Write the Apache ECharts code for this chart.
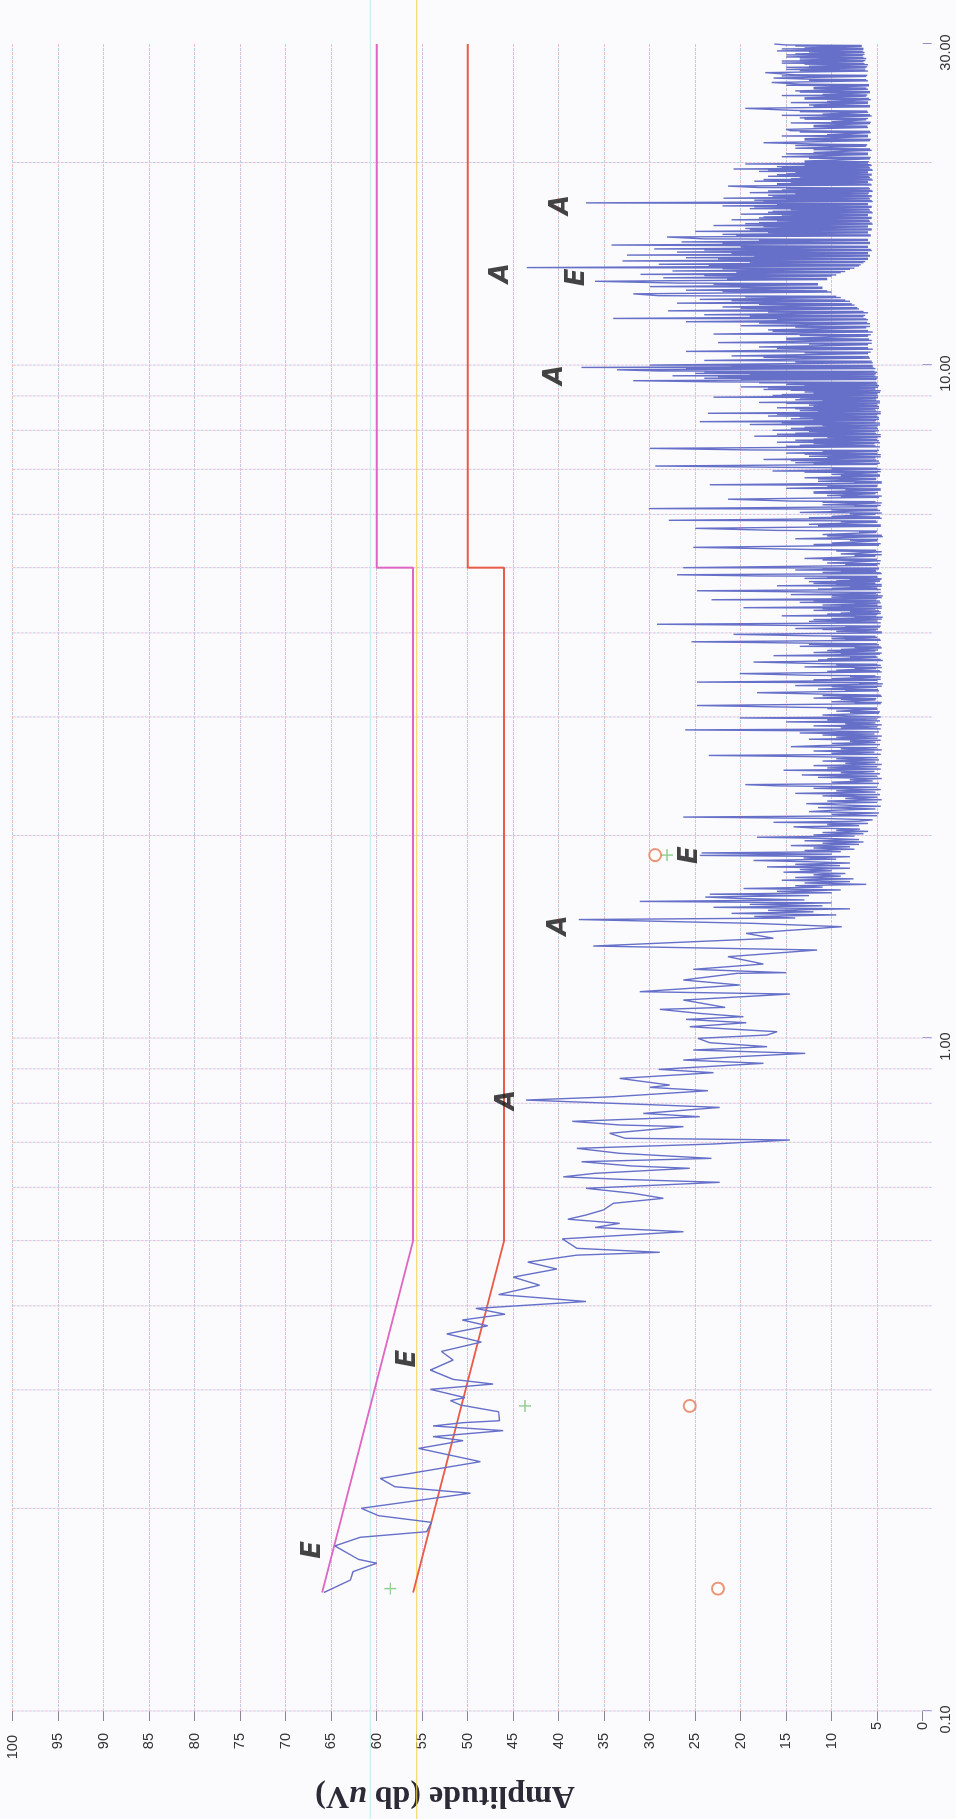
<!DOCTYPE html>
<html>
<head>
<meta charset="utf-8">
<script src="https://cdn.jsdelivr.net/npm/echarts@6/dist/echarts.min.js"></script>
<style>
  html, body { margin: 0; padding: 0; background: #fbfbfd; overflow: hidden; }
  body { width: 956px; height: 1819px; position: relative; }
  /* the plot is laid out landscape and turned a quarter turn counter-clockwise */
  #chart {
    position: absolute; left: 0; top: 0;
    width: 1819px; height: 956px;
    transform-origin: 0 0;
    transform: translate(0, 1819px) rotate(-90deg);
  }
</style>
</head>
<body>
<div id="chart"></div>
<script>
// Conducted emission scan: [frequency MHz, level dB(uV)]
const scan150k = [[0.150,65.8],[0.1565,62.9],[0.1611,62.6],[0.1658,60.0],[0.168,62.0],[0.1759,64.6],[0.1812,61.8],[0.1847,54.5],[0.1907,54.0],[0.1951,59.8],[0.2001,61.7],[0.2107,49.7],[0.2154,58.0],[0.2216,59.6],[0.2347,48.6],[0.2456,55.4],[0.2522,50.5],[0.2557,53.8],[0.261,46.1],[0.2652,53.8],[0.2682,50.5],[0.27,46.5],[0.2784,46.6],[0.2849,50.8],[0.2892,51.9],[0.2922,50.3],[0.3006,54.1],[0.3061,47.2],[0.311,51.6],[0.3211,54.1],[0.3323,51.6],[0.3422,52.9],[0.3534,48.5],[0.3634,52.3],[0.3736,47.8],[0.3811,50.6],[0.3887,45.9],[0.3965,49.1],[0.406,37.0],[0.4158,46.6],[0.4293,42.1],[0.4413,45.0],[0.4537,40.2],[0.4646,43.4],[0.4758,38.0],[0.4804,28.9],[0.487,38.0],[0.503,39.6]];

const scan500k = [[0.5155,26.3],[0.523,36.0],[0.5305,33.3],[0.538,39.0],[0.5458,37.0],[0.5553,35.1],[0.5681,34.0],[0.5779,28.5],[0.5878,31.8],[0.598,37.0],[0.6104,22.3],[0.6166,33.1],[0.622,39.5],[0.6295,36.0],[0.6404,25.6],[0.6455,32.0],[0.655,37.5],[0.6625,23.2],[0.6741,33.3],[0.6857,38.0],[0.6959,23.0],[0.7055,14.6],[0.7096,32.7],[0.7218,34.4],[0.7385,26.3],[0.7427,33.3],[0.752,38.5],[0.7641,24.5],[0.7727,30.7],[0.7887,22.3],[0.7951,28.9],[0.8088,43.6],[0.8181,34.0],[0.8351,23.6],[0.8447,30.0],[0.8515,27.8],[0.871,33.3],[0.8882,23.0],[0.8984,29.0],[0.9171,17.5],[0.9275,26.3],[0.9382,20.4],[0.9489,12.9],[0.9599,25.2],[0.9709,17.1],[0.9842,23.4],[0.9989,24.7],[1.0104,17.1],[1.0219,16.0],[1.0395,25.6],[1.0538,19.4],[1.0659,26.0],[1.0757,19.7],[1.0879,24.5],[1.1031,28.9],[1.1107,21.7],[1.1389,26.3],[1.1625,14.6],[1.1719,31.1],[1.199,20.1],[1.2197,26.3],[1.2478,20.4],[1.2507,15.0],[1.2651,25.2],[1.2883,17.5],[1.321,21.4],[1.3515,11.6],[1.370,36.2],[1.407,16.4],[1.4307,19.4],[1.4637,8.9],[1.4805,18.6]];

const scan1M5 = [[1.500,37.8],[1.508,14.0],[1.516,18.5],[1.524,9.5],[1.532,21.0],[1.540,12.0],[1.548,17.0],[1.556,8.0],[1.564,23.0],[1.572,11.0],[1.580,19.0],[1.588,10.0],[1.596,31.1],[1.604,13.0],[1.612,20.0],[1.620,23.9],[1.628,12.5],[1.636,23.4],[1.644,10.0],[1.652,16.0],[1.660,9.0],[1.668,19.7],[1.676,11.0],[1.684,14.0],[1.692,6.2],[1.700,13.0],[1.708,8.0],[1.716,15.5],[1.724,7.6],[1.732,14.0],[1.740,9.0],[1.748,12.0],[1.756,8.5],[1.764,15.3],[1.772,10.0],[1.780,13.5],[1.788,8.0],[1.796,17.1],[1.804,9.1],[1.812,14.0],[1.820,8.0],[1.828,12.5],[1.836,18.6],[1.844,9.5],[1.852,13.1],[1.860,8.0],[1.868,24.5],[1.876,10.0],[1.884,24.3],[1.892,9.0],[1.900,13.0],[1.908,7.5],[1.916,12.0],[1.924,8.0],[1.932,14.5],[1.940,7.0],[1.948,11.0],[1.956,6.5],[1.964,13.0],[1.972,7.0],[1.980,10.5],[1.988,18.2],[1.996,7.5],[2.004,12.0],[2.012,6.5],[2.020,11.0],[2.028,6.0],[2.036,9.5],[2.044,6.9],[2.052,12.0],[2.060,14.2],[2.068,7.0],[2.076,10.5],[2.084,6.0],[2.092,16.4],[2.100,7.0]];

const scan2M = [[2.11,5.5],[2.12,11.0],[2.13,26.3],[2.14,5.0],[2.15,10.0],[2.16,4.8],[2.17,12.5],[2.18,9.8],[2.19,5.2],[2.20,11.5],[2.21,4.6],[2.22,9.0],[2.23,12.8],[2.24,5.0],[2.25,10.5],[2.26,4.5],[2.27,8.5],[2.28,5.0],[2.29,11.0],[2.30,4.7],[2.31,14.0],[2.32,5.2],[2.33,9.5],[2.34,4.6],[2.35,12.0],[2.36,5.0],[2.37,16.0],[2.38,19.5],[2.39,4.8],[2.40,10.0],[2.41,5.5],[2.42,8.0],[2.43,4.5],[2.44,11.5],[2.45,5.0],[2.46,13.3],[2.47,4.7],[2.48,9.0],[2.49,5.3],[2.50,15.3],[2.51,4.6],[2.52,10.5],[2.53,5.0],[2.54,12.0],[2.55,4.5],[2.56,8.5],[2.57,5.2],[2.58,11.0],[2.59,4.8],[2.60,9.5],[2.61,5.0],[2.62,13.0],[2.63,23.5],[2.64,4.6],[2.65,10.0],[2.66,5.3],[2.67,12.0],[2.68,4.5],[2.69,9.0],[2.70,5.0],[2.71,14.5],[2.72,11.3],[2.73,4.7],[2.74,10.0],[2.75,5.2],[2.76,8.0],[2.77,4.6],[2.78,12.5],[2.79,5.0],[2.80,9.5],[2.81,4.5],[2.82,11.0],[2.83,5.3],[2.84,13.5],[2.85,4.8],[2.86,10.0],[2.87,26.1],[2.88,4.6],[2.89,9.0],[2.90,5.0],[2.91,12.0],[2.92,4.5],[2.93,8.5],[2.94,5.2],[2.95,15.0],[2.96,4.7],[2.97,10.5],[2.98,5.0],[2.99,20.1],[3.00,4.6]];

const scan3M = [[3.02,11.0],[3.04,4.8],[3.06,9.5],[3.08,5.0],[3.10,13.0],[3.12,24.8],[3.14,4.6],[3.16,10.0],[3.18,5.2],[3.20,12.0],[3.22,4.5],[3.24,9.0],[3.26,18.2],[3.28,4.8],[3.30,11.5],[3.32,5.0],[3.34,14.0],[3.36,4.4],[3.38,24.8],[3.40,5.0],[3.42,10.0],[3.44,4.6],[3.46,12.5],[3.48,20.1],[3.50,4.5],[3.52,9.5],[3.54,5.1],[3.56,13.0],[3.58,4.6],[3.60,11.0],[3.62,18.6],[3.64,4.4],[3.66,10.5],[3.68,5.0],[3.70,16.4],[3.72,4.7],[3.74,12.0],[3.76,5.2],[3.78,9.0],[3.80,4.5],[3.82,13.5],[3.84,4.8],[3.86,11.0],[3.88,25.4],[3.90,4.6],[3.92,10.0],[3.94,5.0],[3.96,12.0],[3.98,20.8],[4.00,4.5],[4.02,9.5],[4.04,5.1],[4.06,14.0],[4.08,4.7],[4.10,11.0],[4.12,29.2],[4.14,4.6],[4.16,12.5],[4.18,5.0],[4.20,10.0],[4.22,4.4],[4.24,15.5],[4.26,5.0],[4.28,9.0],[4.30,4.6],[4.32,12.0],[4.34,5.2],[4.36,19.7],[4.38,4.5],[4.40,11.0],[4.42,5.0],[4.44,13.5],[4.46,4.7],[4.48,23.2],[4.50,5.0],[4.52,10.0],[4.54,4.4],[4.56,14.5],[4.58,5.1],[4.60,11.5],[4.62,24.8],[4.64,4.6],[4.66,10.0],[4.68,5.0],[4.70,16.0],[4.72,4.5],[4.74,12.0],[4.76,5.2],[4.78,9.5],[4.80,4.6],[4.82,13.0],[4.84,5.0],[4.86,18.0],[4.88,27.0],[4.90,4.5],[4.92,11.0],[4.94,5.1],[4.96,14.0],[4.98,4.8],[5.00,26.3]];

const scan3Mb = [[3.047,8.0],[3.053,4.7],[3.087,10.5],[3.093,5.0],[3.147,7.5],[3.153,4.5],[3.187,9.0],[3.193,5.1],[3.227,11.0],[3.233,4.6],[3.287,8.5],[3.293,4.9],[3.327,10.0],[3.333,4.5],[3.367,7.0],[3.373,5.0],[3.407,12.0],[3.413,4.6],[3.447,8.0],[3.453,5.2],[3.507,10.5],[3.513,4.7],[3.547,7.5],[3.553,4.5],[3.587,9.5],[3.593,5.0],[3.647,11.5],[3.653,4.6],[3.687,8.0],[3.693,5.1],[3.727,9.0],[3.733,4.5],[3.767,10.5],[3.773,4.9],[3.807,7.5],[3.813,4.6],[3.847,12.5],[3.853,5.0],[3.907,8.5],[3.913,4.7],[3.947,10.0],[3.953,5.2],[4.007,7.0],[4.013,4.5],[4.047,11.0],[4.053,4.9],[4.087,8.5],[4.093,4.6],[4.147,9.5],[4.153,5.0],[4.187,12.0],[4.193,4.5],[4.227,7.5],[4.233,5.1],[4.267,10.5],[4.273,4.6],[4.307,8.0],[4.313,4.8],[4.347,11.0],[4.353,4.5],[4.387,9.0],[4.393,5.0],[4.427,7.5],[4.433,4.6],[4.467,12.0],[4.473,5.1],[4.507,8.5],[4.513,4.5],[4.547,10.0],[4.553,4.9],[4.587,7.0],[4.593,4.6],[4.647,11.5],[4.653,5.0],[4.687,8.0],[4.693,4.5],[4.727,9.5],[4.733,5.2],[4.767,12.5],[4.773,4.7],[4.807,8.0],[4.813,4.5],[4.847,10.5],[4.853,5.0],[4.907,7.5],[4.913,4.6],[4.947,9.0],[4.953,5.1],[4.987,11.0],[4.993,4.8]];

const scan5M = [[5.04,5.0],[5.08,10.5],[5.12,4.6],[5.16,13.0],[5.20,5.2],[5.24,9.0],[5.28,4.5],[5.32,12.0],[5.36,25.2],[5.40,4.8],[5.44,10.0],[5.48,5.0],[5.52,14.0],[5.56,4.4],[5.60,11.0],[5.64,5.1],[5.68,16.0],[5.72,25.0],[5.76,4.6],[5.80,12.5],[5.84,5.0],[5.88,27.9],[5.92,4.5],[5.96,10.0],[6.00,5.2],[6.04,13.5],[6.08,4.7],[6.12,30.1],[6.16,5.0],[6.20,11.0],[6.24,4.5],[6.28,14.5],[6.32,21.4],[6.36,4.8],[6.40,10.5],[6.44,5.2],[6.48,12.0],[6.52,4.6],[6.56,15.0],[6.60,5.0],[6.64,23.4],[6.68,4.5],[6.72,11.5],[6.76,5.1],[6.80,13.0],[6.84,4.7],[6.88,10.0],[6.92,5.0],[6.96,16.5],[7.00,4.6],[7.04,12.0],[7.08,29.4],[7.12,5.0],[7.16,14.0],[7.20,4.8],[7.24,17.5],[7.28,5.2],[7.32,12.5],[7.36,4.6],[7.40,15.0],[7.44,5.0],[7.48,19.0],[7.52,30.0],[7.56,4.7],[7.60,13.5],[7.64,5.3],[7.68,16.0],[7.72,4.8],[7.76,12.0],[7.80,5.0],[7.84,18.5],[7.88,4.6],[7.92,14.0],[7.96,5.2],[8.00,16.5],[8.04,4.9],[8.08,13.0],[8.12,5.0],[8.16,19.0],[8.20,4.7],[8.24,24.5],[8.28,5.1],[8.32,14.5],[8.36,4.8],[8.40,17.0],[8.44,5.0],[8.48,23.6],[8.52,4.6],[8.56,13.5],[8.60,5.2],[8.64,16.0],[8.68,4.8],[8.72,12.5],[8.76,5.0],[8.80,18.0],[8.84,4.7],[8.88,14.0],[8.92,5.1],[8.96,23.0],[9.00,4.9],[9.04,15.5],[9.08,5.0],[9.12,13.0],[9.16,4.6],[9.20,17.5],[9.24,5.2],[9.28,20.0],[9.32,4.8],[9.36,15.0],[9.40,5.0],[9.44,22.0],[9.48,31.8],[9.52,5.1],[9.56,24.0],[9.60,4.9],[9.64,27.5],[9.68,5.3],[9.72,25.0],[9.76,5.0],[9.80,29.0],[9.84,33.6],[9.88,5.2],[9.92,37.5],[9.96,5.5],[10.00,30.0]];

const scan5Mb = [[5.053,8.5],[5.067,4.7],[5.133,11.0],[5.147,5.0],[5.213,7.5],[5.227,4.5],[5.293,9.5],[5.307,5.1],[5.413,12.0],[5.427,4.6],[5.493,8.0],[5.507,4.9],[5.573,10.5],[5.587,4.5],[5.653,7.0],[5.667,5.0],[5.773,11.5],[5.787,4.6],[5.853,9.0],[5.867,5.1],[5.933,12.5],[5.947,4.7],[6.013,8.0],[6.027,4.5],[6.093,10.0],[6.107,5.0],[6.173,7.5],[6.187,4.6],[6.253,11.0],[6.267,5.2],[6.373,9.0],[6.387,4.5],[6.453,12.0],[6.467,4.9],[6.533,8.5],[6.547,4.6],[6.613,10.5],[6.627,5.0],[6.693,7.5],[6.707,4.5],[6.773,11.5],[6.787,5.1],[6.853,9.0],[6.867,4.7],[6.933,13.0],[6.947,4.6],[7.013,10.0],[7.027,5.0],[7.133,12.0],[7.147,4.7],[7.213,14.5],[7.227,5.1],[7.293,10.5],[7.307,4.6],[7.373,13.0],[7.387,5.0],[7.453,11.0],[7.467,4.8],[7.573,15.0],[7.587,5.2],[7.653,12.0],[7.667,4.7],[7.733,14.0],[7.747,5.0],[7.813,10.5],[7.827,4.6],[7.893,16.0],[7.907,5.1],[7.973,12.5],[7.987,4.8],[8.053,14.5],[8.067,5.0],[8.133,11.0],[8.147,4.7],[8.213,15.5],[8.227,5.2],[8.293,12.0],[8.307,4.8],[8.373,13.5],[8.387,5.0],[8.453,16.0],[8.467,4.6],[8.533,11.5],[8.547,5.1],[8.613,14.0],[8.627,4.8],[8.693,12.0],[8.707,5.0],[8.773,15.0],[8.787,4.7],[8.853,11.0],[8.867,5.1],[8.933,13.5],[8.947,4.9],[9.013,16.5],[9.027,5.0],[9.093,12.0],[9.107,4.7],[9.173,14.5],[9.187,5.2],[9.253,17.0],[9.267,4.9],[9.333,13.0],[9.347,5.0],[9.413,18.0],[9.427,5.1],[9.533,20.0],[9.547,5.0],[9.613,22.5],[9.627,5.2],[9.693,19.0],[9.707,5.1],[9.773,24.0],[9.787,5.3],[9.893,26.0],[9.907,5.4],[9.973,21.0],[9.987,5.5]];

const scan10M = [[10.08,5.5],[10.16,24.0],[10.24,5.8],[10.32,21.0],[10.40,6.0],[10.48,26.0],[10.56,5.5],[10.64,18.0],[10.72,6.0],[10.80,22.5],[10.88,5.6],[10.96,15.0],[11.04,6.0],[11.12,23.0],[11.20,5.5],[11.28,17.0],[11.36,6.2],[11.44,20.0],[11.52,5.8],[11.60,26.0],[11.68,6.0],[11.73,34.0],[11.80,6.5],[11.88,24.0],[11.96,6.0],[12.04,28.0],[12.12,7.0],[12.20,22.0],[12.28,7.5],[12.36,27.0],[12.44,8.0],[12.52,24.5],[12.60,9.0],[12.68,29.0],[12.76,31.8],[12.84,10.0],[12.92,26.0],[13.00,11.0],[13.08,30.0],[13.16,11.5],[13.24,27.0],[13.32,36.0],[13.40,10.5],[13.48,28.5],[13.56,10.0],[13.64,31.0],[13.72,9.0],[13.80,27.5],[13.88,8.0],[13.96,43.5],[14.04,7.0],[14.12,29.0],[14.20,6.5],[14.28,33.0],[14.36,6.0],[14.44,26.0],[14.52,5.8],[14.57,32.5],[14.64,6.0],[14.72,27.0],[14.80,5.6],[14.88,29.5],[14.96,6.0],[15.08,34.2],[15.16,5.8],[15.24,26.5],[15.32,6.0],[15.40,24.0],[15.50,28.1],[15.56,5.7],[15.64,22.0],[15.72,6.0],[15.80,25.0],[15.88,5.6],[15.96,19.5],[16.04,6.0],[16.12,23.0],[16.20,5.5],[16.28,18.0],[16.36,5.8],[16.44,21.0],[16.52,5.6],[16.60,17.5],[16.68,6.0],[16.76,20.0],[16.84,5.5],[16.92,16.5],[17.00,5.8],[17.08,19.0],[17.16,5.6],[17.24,22.0],[17.32,6.0],[17.42,37.0],[17.50,5.5],[17.58,18.5],[17.66,5.8],[17.70,21.9],[17.80,5.6],[17.88,17.0],[17.96,6.0],[18.04,19.0],[18.12,5.5],[18.20,15.5],[18.28,5.8],[18.36,18.0],[18.45,21.4],[18.52,5.6],[18.60,16.0],[18.68,6.0],[18.76,18.5],[18.84,5.5],[18.92,14.5],[19.00,5.8],[19.08,17.0],[19.16,5.6],[19.24,15.0],[19.32,6.0],[19.40,18.0],[19.48,5.5],[19.56,20.8],[19.64,5.8],[19.72,16.0],[19.80,5.6],[19.90,19.5],[19.96,6.0]];

const scan10Mb = [[10.107,14.0],[10.133,5.6],[10.267,17.5],[10.293,5.9],[10.427,13.0],[10.453,5.7],[10.587,16.0],[10.613,6.0],[10.747,12.5],[10.773,5.6],[10.907,15.0],[10.933,5.9],[11.067,13.5],[11.093,5.7],[11.227,16.5],[11.253,6.0],[11.387,14.0],[11.413,5.8],[11.547,18.0],[11.573,6.1],[11.697,16.0],[11.713,6.2],[11.827,19.0],[11.853,6.3],[11.987,17.0],[12.013,6.5],[12.147,20.0],[12.173,7.2],[12.307,18.0],[12.333,7.8],[12.467,21.0],[12.493,8.5],[12.627,19.5],[12.653,9.5],[12.867,22.0],[12.893,10.5],[13.027,20.0],[13.053,11.0],[13.187,23.0],[13.213,11.5],[13.427,21.5],[13.453,10.5],[13.587,24.0],[13.613,9.5],[13.747,20.5],[13.773,8.5],[13.907,22.0],[13.933,7.5],[14.067,23.5],[14.093,6.8],[14.227,19.0],[14.253,6.3],[14.387,22.5],[14.413,6.0],[14.537,18.5],[14.553,5.8],[14.667,21.0],[14.693,6.0],[14.827,24.0],[14.853,5.7],[14.987,20.0],[15.013,6.0],[15.187,22.0],[15.213,5.8],[15.347,18.0],[15.373,6.0],[15.587,20.5],[15.613,5.7],[15.747,17.0],[15.773,6.0],[15.907,19.0],[15.933,5.6],[16.067,17.5],[16.093,6.0],[16.227,19.5],[16.253,5.6],[16.387,16.0],[16.413,5.9],[16.547,18.0],[16.573,5.6],[16.707,15.5],[16.733,6.0],[16.867,17.0],[16.893,5.6],[17.027,14.5],[17.053,5.9],[17.187,18.5],[17.213,5.6],[17.347,16.0],[17.373,6.0],[17.527,17.5],[17.553,5.6],[17.687,15.0],[17.693,5.9],[17.827,16.5],[17.853,5.6],[17.987,14.0],[18.013,5.9],[18.147,17.0],[18.173,5.6],[18.307,15.0],[18.333,5.9],[18.547,16.0],[18.573,5.7],[18.707,14.5],[18.733,6.0],[18.867,17.5],[18.893,5.6],[19.027,13.5],[19.053,5.9],[19.187,16.0],[19.213,5.6],[19.347,14.0],[19.373,6.0],[19.507,17.0],[19.533,5.6],[19.667,15.5],[19.693,5.9],[19.827,13.0],[19.853,5.7]];

const scan20M = [[20.10,13.0],[20.25,5.8],[20.40,15.5],[20.55,6.0],[20.70,12.0],[20.85,5.6],[21.00,14.0],[21.15,6.2],[21.30,11.5],[21.40,17.5],[21.55,5.8],[21.70,13.0],[21.85,6.0],[22.00,10.5],[22.15,5.7],[22.30,14.5],[22.40,15.0],[22.55,6.0],[22.70,12.0],[22.85,5.8],[23.00,10.0],[23.15,6.2],[23.30,13.5],[23.45,5.6],[23.60,11.0],[23.75,6.0],[23.90,14.0],[24.07,19.5],[24.20,5.8],[24.35,12.5],[24.50,6.0],[24.65,10.5],[24.80,5.7],[24.95,13.0],[25.10,6.2],[25.25,11.0],[25.40,5.8],[25.55,14.0],[25.70,6.0],[25.85,12.0],[26.00,5.9],[26.15,13.5],[26.30,16.6],[26.45,6.0],[26.60,12.5],[26.70,16.4],[26.85,6.2],[27.00,14.0],[27.20,17.3],[27.35,6.0],[27.50,15.0],[27.65,6.3],[27.80,12.5],[27.95,6.0],[28.10,15.5],[28.25,6.5],[28.40,13.5],[28.55,6.2],[28.70,15.0],[28.85,6.6],[29.00,14.0],[29.15,6.4],[29.30,16.0],[29.45,6.5],[29.60,13.0],[29.75,6.7],[29.90,15.0],[30.00,16.3]];

const scan20Mb = [[20.01,13.0],[20.05,5.9],[20.30,12.5],[20.35,5.7],[20.60,15.0],[20.65,6.0],[20.90,12.0],[20.95,5.8],[21.20,14.0],[21.25,6.1],[21.60,13.0],[21.65,5.7],[21.90,15.5],[21.95,6.0],[22.20,13.5],[22.25,5.8],[22.60,12.0],[22.65,6.1],[22.90,14.5],[22.95,5.7],[23.20,13.0],[23.25,6.0],[23.50,15.5],[23.55,5.8],[23.80,13.5],[23.85,6.1],[24.25,12.0],[24.30,5.8],[24.55,14.5],[24.60,6.0],[24.85,13.0],[24.90,5.9],[25.15,15.5],[25.20,6.1],[25.45,13.5],[25.50,5.8],[25.75,12.0],[25.80,6.2],[26.05,15.0],[26.10,5.9],[26.50,12.5],[26.55,6.2],[26.90,15.5],[26.95,6.1],[27.40,13.5],[27.45,6.3],[27.70,15.0],[27.75,6.1],[28.00,13.0],[28.05,6.4],[28.30,15.5],[28.35,6.3],[28.60,13.5],[28.65,6.5],[28.90,15.0],[28.95,6.4],[29.20,12.5],[29.25,6.6],[29.50,15.5],[29.55,6.5],[29.80,14.0],[29.85,6.7]];

// limit lines
const limitQp = [[0.15,66],[0.5,56],[5,56],[5,60],[30,60]];
const limitAv = [[0.15,56],[0.5,46],[5,46],[5,50],[30,50]];

// final measurements
const finalMHz  = [0.152, 0.284, 1.87];
const finalQpDb = [58.5, 43.7, 28.1];
const finalAvDb = [22.5, 25.6, 29.4];

// peak annotations
const noteText = ['E', 'E', 'A', 'A', 'E', 'A', 'A', 'E', 'A'];
const noteMHz  = [0.1735, 0.334, 0.809, 1.47, 1.87, 9.67, 13.7, 13.5, 17.3];
const noteDb   = [67.0, 56.5, 45.7, 39.9, 25.5, 40.4, 46.3, 38.0, 39.7];

// frequency grid and cursor levels
const gridMHz = [0.1,0.2,0.3,0.4,0.5,0.6,0.7,0.8,0.9,1,2,3,4,5,6,7,8,9,10,20];
const cursorDb = [55.6, 60.7];

const zip = (a, b) => a.map((v, i) => [v, b[i]]);
const scan = [].concat(scan150k, scan500k, scan1M5, scan2M, scan3M, scan3Mb,
  scan5M, scan5Mb, scan10M, scan10Mb, scan20M, scan20Mb)
  .sort((p, q) => p[0] - q[0]);

const chart = echarts.init(document.getElementById('chart'), null, { renderer: 'canvas' });

const labelFont = 'Liberation Sans, Arial, sans-serif';
const gridPink = '#f0bccb';
const gridBlue = '#c2c8ec';

chart.setOption({
  backgroundColor: '#fbfbfd',
  animation: false,
  grid: { left: 108, right: 44, top: 12.7, bottom: 33.3 },
  xAxis: {
    type: 'log', logBase: 10, min: 0.1, max: 30,
    axisLine: { show: false },
    axisTick: { show: true, length: 9, lineStyle: { color: '#8a90cc', width: 1 } },
    axisLabel: {
      formatter: v => Number(v).toFixed(2),
      fontSize: 14.5, color: '#333', fontFamily: labelFont,
      margin: 16, padding: [0, 17, 0, 0]
    },
    splitLine: { show: false },
    minorTick: { show: false }
  },
  yAxis: [{
    type: 'value', min: 0, max: 100, interval: 5,
    axisLine: { show: false },
    axisTick: { show: true, length: 10, lineStyle: { color: '#8c8494', width: 1 } },
    axisLabel: {
      margin: 11,
      formatter: v => v < 10 ? '{a|' + v + '}' : (v < 100 ? '{b|' + v + '}' : '{c|' + v + '}'),
      rich: {
        a: { fontSize: 14.5, color: '#333', fontFamily: labelFont },
        b: { fontSize: 14.5, color: '#333', fontFamily: labelFont, padding: [0, 11, 0, 0] },
        c: { fontSize: 14.5, color: '#333', fontFamily: labelFont, padding: [0, 13, 0, 0] }
      }
    },
    splitLine: { show: true, showMinLine: false, lineStyle: { color: gridPink, type: [3, 5], width: 1 } }
  }, {
    type: 'value', min: 0, max: 100, interval: 5, position: 'left',
    axisLine: { show: false }, axisTick: { show: false }, axisLabel: { show: false },
    splitLine: { show: true, showMinLine: false, lineStyle: { color: gridBlue, type: [3, 5], dashOffset: 4, width: 1 } }
  }],
  graphic: [{
    type: 'text', x: 24, y: 445, rotation: Math.PI / 2,
    style: {
      text: 'Amplitude (db {i|u}V)',
      font: 'bold 32px "Liberation Serif", "Times New Roman", serif',
      fill: '#2b2a36', align: 'center', verticalAlign: 'middle',
      rich: { i: { font: 'bold italic 32px "Liberation Serif", "Times New Roman", serif', fill: '#2b2a36' } }
    }
  }],
  series: [
    {
      name: 'grid-f', type: 'custom', silent: true, clip: false, z: 1,
      data: gridMHz.map(f => [f, 0]),
      encode: { x: 0, y: 1 },
      renderItem: (params, api) => {
        const f = api.value(0);
        const top = api.coord([f, 100]);
        const bot = api.coord([f, 0]);
        const x = top[0];
        return {
          type: 'group', children: [
            { type: 'line', shape: { x1: x, y1: top[1], x2: x, y2: bot[1] + 9 },
              style: { stroke: gridPink, lineWidth: 1, lineDash: [3, 5] } },
            { type: 'line', shape: { x1: x, y1: top[1], x2: x, y2: bot[1] + 9 },
              style: { stroke: gridBlue, lineWidth: 1, lineDash: [3, 5], lineDashOffset: 4 } }
          ]
        };
      }
    },
    {
      name: 'cursor', type: 'custom', silent: true, clip: false, z: 2,
      data: cursorDb.map(v => [0.1, v]),
      encode: { x: 0, y: 1 },
      renderItem: (params, api) => {
        const p = api.coord([0.1, api.value(1)]);
        const colors = ['#f2d24a', '#cdeef0'];
        return { type: 'line', shape: { x1: 0, y1: p[1], x2: api.getWidth(), y2: p[1] },
          style: { stroke: colors[params.dataIndex], lineWidth: 1.2 } };
      }
    },
    {
      name: 'QP limit', type: 'line', data: limitQp,
      symbol: 'none', z: 3, lineStyle: { color: '#e066c2', width: 2 }
    },
    {
      name: 'AV limit', type: 'line', data: limitAv,
      symbol: 'none', z: 3, lineStyle: { color: '#ea5a48', width: 2 }
    },
    {
      name: 'Scan', type: 'line', data: scan, symbol: 'none', z: 4,
      lineStyle: { color: '#6670c8', width: 1.4 }
    },
    {
      name: 'QP', type: 'scatter', data: zip(finalMHz, finalQpDb), z: 5,
      symbol: 'path://M4.4,0h1.2v10h-1.2z M0,4.4h10v1.2h-10z', symbolSize: 12,
      itemStyle: { color: '#74c474' }
    },
    {
      name: 'AV', type: 'scatter', data: zip(finalMHz, finalAvDb), z: 5,
      symbol: 'emptyCircle', symbolSize: 12,
      itemStyle: { color: '#e87a56', borderColor: '#e87a56', borderWidth: 1.3 }
    },
    {
      name: 'notes', type: 'scatter', z: 6, symbolSize: 2,
      itemStyle: { color: 'rgba(0,0,0,0)' },
      data: noteText.map((t, i) => ({ name: t, value: [noteMHz[i], noteDb[i]] })),
      label: {
        show: true, position: 'inside', formatter: '{b}',
        fontSize: 26, fontWeight: 'bold', fontStyle: 'italic',
        fontFamily: 'DejaVu Sans, sans-serif', color: '#151515'
      }
    }
  ]
});
</script>
</body>
</html>
